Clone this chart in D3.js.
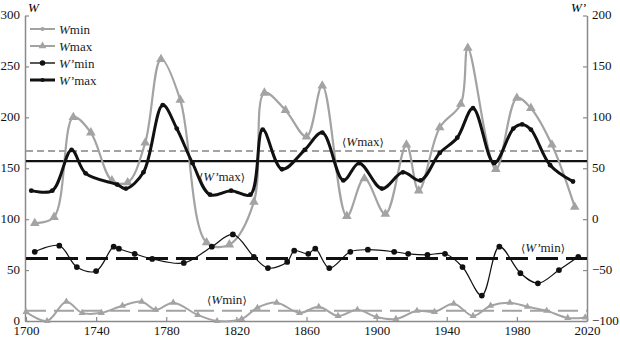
<!DOCTYPE html>
<html>
<head>
<meta charset="utf-8">
<script src="https://cdn.jsdelivr.net/npm/d3@7"></script>
<style>
  html, body { margin: 0; padding: 0; background: #fff; }
  svg { display: block; font-family: "Liberation Serif", "Times New Roman", Times, serif; }
  svg text { font-family: "Liberation Serif", "Times New Roman", Times, serif; }
</style>
</head>
<body>
<svg id="chart" width="620" height="340"></svg>
<script>
// W max (left axis)
const wmaxYears = [1705, 1716, 1727, 1737, 1749, 1758, 1768, 1777, 1788, 1803, 1816, 1830, 1836, 1848, 1860, 1869, 1883, 1893, 1905, 1917, 1924, 1936, 1948, 1952, 1968, 1980, 1988, 2000, 2013];
const wmaxVals  = [96, 102, 200, 185, 138, 136, 175, 257, 217, 77, 75, 117, 224, 207, 181, 231, 103, 140, 105, 173, 128, 190, 213, 268, 149, 219, 209, 173, 112];

// W min (left axis)
const wminYears = [1700, 1712, 1723, 1732, 1743, 1755, 1766, 1774, 1784, 1798, 1809, 1823, 1832, 1843, 1856, 1867, 1878, 1889, 1900, 1911, 1923, 1933, 1944, 1955, 1965, 1976, 1986, 1997, 2009, 2019];
const wminVals  = [9, 0, 19, 8, 8, 15, 19, 11, 18, 6, 0, 2, 13, 18, 8, 14, 5, 11, 4, 2, 10, 9, 17, 5, 15, 18, 14, 10, 3, 3.5];

// W' max (right axis)
const wpmaxYears = [1703, 1715, 1726, 1734, 1752, 1757, 1767, 1778, 1786, 1795, 1805, 1817, 1828, 1835, 1846, 1859, 1869, 1881, 1890, 1903, 1915, 1925, 1936, 1946, 1955, 1967, 1978, 1983, 1988, 1999, 2012];
const wpmaxVals  = [28, 28, 68, 45, 34, 30, 46, 112, 89, 55, 24, 28, 24, 88, 49, 68, 85, 38, 55, 30, 46, 38, 65, 80, 109, 55, 89, 93, 88, 53, 37];

// W' min (right axis)
const wpminYears = [1705, 1719, 1729, 1740, 1750, 1753, 1762, 1772, 1790, 1806, 1818, 1830, 1838, 1849, 1853, 1861, 1865, 1873, 1885, 1895, 1910, 1918, 1929, 1939, 1949, 1960, 1970, 1982, 1992, 2004, 2015];
const wpminVals  = [-32, -26, -47, -51, -27, -29, -34, -39, -43, -27, -15, -37, -48, -42, -31, -34, -29, -48, -32, -30, -32, -34, -35, -34, -47, -75, -27, -53, -63, -50, -37];

// Long-term means
const meanWmax = 167;    // left axis
const meanWpmax = 57;    // right axis
const meanWpmin = -38.6; // right axis
const meanWmin = 10;     // left axis

// Axis ticks
const xTicks = [1700, 1740, 1780, 1820, 1860, 1900, 1940, 1980, 2020];
const leftTicks = [0, 50, 100, 150, 200, 250, 300];
const rightTicks = [-100, -50, 0, 50, 100, 150, 200];

const FONT = "'Liberation Serif', 'Times New Roman', Times, serif";
const svg = d3.select("#chart");
const x = d3.scaleLinear().domain([1700, 2020]).range([26, 587]);
const yL = d3.scaleLinear().domain([0, 300]).range([321, 15.5]);
const yR = d3.scaleLinear().domain([-100, 200]).range([321, 15.5]);

const axisColor = "#8a8a8a";
const gray = "#a3a3a3";

function styleAxis(g) {
  g.attr("font-family", null).attr("font-size", null);
  g.selectAll(".domain").attr("stroke", axisColor).attr("stroke-width", 1.5);
  g.selectAll(".tick line").attr("stroke", axisColor).attr("stroke-width", 1.2);
  g.selectAll(".tick text").attr("fill", "#111").style("font-size", "13px").style("font-family", FONT);
}

const minusFmt = d => (d < 0 ? "\u2212" + Math.abs(d) : String(d));

svg.append("g").attr("transform", `translate(${x(1700) - 1},0)`)
  .call(d3.axisLeft(yL).tickValues(leftTicks).tickSizeInner(-4).tickSizeOuter(0).tickPadding(5))
  .call(styleAxis)
  .selectAll(".tick text").attr("dy", "0.25em");

svg.append("g").attr("transform", `translate(${x(2020)},0)`)
  .call(d3.axisRight(yR).tickValues(rightTicks).tickFormat(minusFmt).tickSizeInner(-4).tickSizeOuter(0).tickPadding(5))
  .call(styleAxis)
  .selectAll(".tick text").attr("dy", "0.25em");

svg.append("g").attr("transform", `translate(0,${yL(0)})`)
  .call(d3.axisBottom(x).tickValues(xTicks).tickFormat(d3.format("d")).tickSizeInner(-4).tickSizeOuter(0).tickPadding(5))
  .call(styleAxis);

// axis titles
svg.append("text").attr("x", 28).attr("y", 12).style("font-size", "13px").style("font-style", "italic").text("W");
svg.append("text").attr("x", 571).attr("y", 12).style("font-size", "13px").style("font-style", "italic").text("W\u2019");

// mean lines
const xl = x(1700), xr = x(2020);
function hline(y, color, width, dash) {
  svg.append("line").attr("x1", xl).attr("x2", xr).attr("y1", y).attr("y2", y)
    .attr("stroke", color).attr("stroke-width", width).attr("stroke-dasharray", dash);
}
hline(yL(meanWmax), gray, 2, "7,4");
hline(yR(meanWpmax), "#111", 2.4, null);
hline(yR(meanWpmin), "#111", 3, "22,8");
hline(yL(meanWmin), gray, 2, "20,8");

const curve = d3.curveCatmullRom.alpha(0.5);
function series(years, vals, yScale, color, width, markerType, markerSize) {
  const pts = years.map((yr, i) => [x(yr), yScale(vals[i])]);
  svg.append("path").attr("d", d3.line().curve(curve)(pts))
    .attr("fill", "none").attr("stroke", color).attr("stroke-width", width)
    .attr("stroke-linejoin", "round").attr("stroke-linecap", "round");
  svg.append("g").selectAll("path").data(pts).join("path")
    .attr("transform", d => `translate(${d[0]},${d[1]})`)
    .attr("d", d3.symbol().type(markerType).size(markerSize))
    .attr("fill", color);
}

series(wminYears, wminVals, yL, gray, 2, d3.symbolTriangle, 22);
series(wmaxYears, wmaxVals, yL, gray, 2.2, d3.symbolTriangle, 40);
series(wpminYears, wpminVals, yR, "#111", 1.2, d3.symbolCircle, 26);
series(wpmaxYears, wpmaxVals, yR, "#111", 3, d3.symbolCircle, 18);

// mean labels
function meanLabel(xp, yp, prime, sub) {
  const t = svg.append("text").attr("x", xp).attr("y", yp).style("font-size", "13px").attr("fill", "#222");
  t.append("tspan").text("\u27E8").style("font-family", "'DejaVu Serif', serif").style("font-size", "11px");
  t.append("tspan").style("font-style", "italic").text(prime ? "W\u2019" : "W");
  t.append("tspan").text(sub);
  t.append("tspan").text("\u27E9").style("font-family", "'DejaVu Serif', serif").style("font-size", "11px");
}
meanLabel(342, 146, false, "max");
meanLabel(199, 181, true, "max");
meanLabel(521, 252, true, "min");
meanLabel(207, 304, false, "min");

// legend
const legend = [
  { name: "min", prime: false, color: gray, width: 2, sym: d3.symbolCircle, size: 14 },
  { name: "max", prime: false, color: gray, width: 2, sym: d3.symbolTriangle, size: 26 },
  { name: "min", prime: true, color: "#111", width: 1.4, sym: d3.symbolCircle, size: 24 },
  { name: "max", prime: true, color: "#111", width: 3, sym: d3.symbolCircle, size: 14 }
];
legend.forEach((d, i) => {
  const y = 29 + i * 17;
  svg.append("line").attr("x1", 30).attr("x2", 55).attr("y1", y).attr("y2", y)
    .attr("stroke", d.color).attr("stroke-width", d.width);
  svg.append("path").attr("transform", `translate(42.5,${y})`)
    .attr("d", d3.symbol().type(d.sym).size(d.size)).attr("fill", d.color);
  const t = svg.append("text").attr("x", 59).attr("y", y + 4.5).style("font-size", "13px").attr("fill", "#222");
  t.append("tspan").style("font-style", "italic").text(d.prime ? "W\u2019" : "W");
  t.append("tspan").text(d.name);
});
</script>
</body>
</html>
